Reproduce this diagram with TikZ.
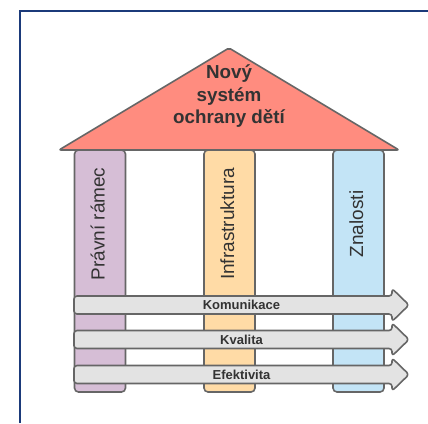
\documentclass[tikz,border=0pt]{standalone}
\usepackage{fontspec}
\setmainfont{Liberation Sans}
\definecolor{frameblue}{HTML}{1B3A7A}
\definecolor{edgegray}{HTML}{666666}
\definecolor{textgray}{HTML}{333333}
\definecolor{roofred}{HTML}{FF8C7F}
\definecolor{lila}{HTML}{D6BED6}
\definecolor{peach}{HTML}{FFDBA6}
\definecolor{skyblue}{HTML}{C3E4F6}
\definecolor{bandgray}{HTML}{E3E3E3}
\tikzset{
  pillar/.style={rectangle,draw=edgegray,line width=1.6pt,rounded corners=4pt,
    minimum width=51pt,minimum height=242pt,inner sep=0pt},
  pillartext/.style={rotate=90,text=textgray,inner sep=0pt,
    font=\fontsize{19}{22}\selectfont,text height=13pt,text depth=4pt},
  roof/.style={draw=edgegray,fill=roofred,line width=1.6pt,rounded corners=2pt,
    line join=round},
  rooftext/.style={text=textgray,align=center,inner sep=0pt,
    font=\fontsize{18.8}{22.5}\selectfont\bfseries},
  band/.style={draw=edgegray,fill=bandgray,line width=1.6pt,rounded corners=3pt,
    line join=round},
  bandtext/.style={text=textgray,inner sep=0pt,
    font=\fontsize{13}{15}\selectfont\bfseries}
}
\begin{document}
\begin{tikzpicture}[x=1pt,y=-1pt]
      \useasboundingbox (0,0) rectangle (428,423);
      \draw[frameblue,line width=2pt] (20,423) -- (20,11) -- (428,11);

      % pillars
      \node[pillar,fill=lila] (pravni) at (100,271) {};
      \node[pillar,fill=peach] (infra) at (229.5,271) {};
      \node[pillar,fill=skyblue] (znalosti) at (358.5,271) {};
      \node[pillartext] (pravnitext) at (100,224) {Právní rámec};
      \node[pillartext] (infratext) at (229.5,224) {Infrastruktura};
      \node[pillartext] (znalostitext) at (358.5,224) {Znalosti};

      % roof
      \filldraw[roof] (59,150) -- (229,48) -- (399,150) -- cycle;
      \node[rooftext] (system) at (229,96.5) {Nový\\systém\\ochrany dětí};

      % bands across the pillars
      \foreach \y/\name/\txt in {305/kom/Komunikace,339.5/kval/Kvalita,374.5/efek/Efektivita}{
        \filldraw[band] (74,\y-9) -- (392,\y-9) -- (392,\y-16.5) -- (409,\y)
          -- (392,\y+16.5) -- (392,\y+9) -- (74,\y+9) -- cycle;
        \node[bandtext] (\name) at (241.5,\y) {\txt};
      }

    \end{tikzpicture}
\end{document}
